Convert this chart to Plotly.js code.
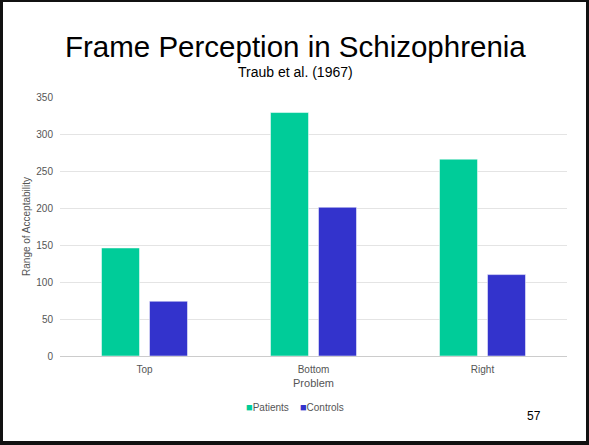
<!DOCTYPE html>
<html>
<head>
<meta charset="utf-8">
<script src="https://cdn.plot.ly/plotly-3.0.1.min.js"></script>
<style>
html,body{margin:0;padding:0;background:#fff;}
#wrap{position:relative;width:589px;height:445px;}
#chart{width:589px;height:445px;}
#frame{position:absolute;left:0;top:0;width:589px;height:445px;box-sizing:border-box;border-style:solid;border-color:#111;border-width:2px 3px 4px 3px;pointer-events:none;}
</style>
</head>
<body>
<div id="wrap"><div id="chart"></div><div id="frame"></div></div>
<script>
const categories = ["Top", "Bottom", "Right"];
const patients = [146, 329, 266];
const controls = [74, 201, 110];
const seriesNames = ["Patients", "Controls"];
const seriesColors = ["#00cc99", "#3333cc"];
const yTicks = [0, 50, 100, 150, 200, 250, 300, 350];

const font = "'Liberation Sans', Arial, sans-serif";

const traces = [
  {type: "bar", name: seriesNames[0], x: categories, y: patients, showlegend: false,
   marker: {color: seriesColors[0], line: {color: "rgba(255,255,255,0.5)", width: 1}}, hoverinfo: "none"},
  {type: "bar", name: seriesNames[1], x: categories, y: controls, showlegend: false,
   marker: {color: seriesColors[1], line: {color: "rgba(255,255,255,0.5)", width: 1}}, hoverinfo: "none"}
];

const sq = (c) => "<span style='color:" + c + ";font-size:11px'>■</span>";
const legendText = sq(seriesColors[0]) + seriesNames[0] + "    " + sq(seriesColors[1]) + seriesNames[1];

const layout = {
  width: 589, height: 445,
  margin: {l: 60, r: 22, t: 97, b: 89},
  paper_bgcolor: "#fff", plot_bgcolor: "#fff",
  font: {family: font, color: "#555", size: 10},
  barmode: "group", bargap: 0.432, bargroupgap: 0.208,
  showlegend: false,
  xaxis: {title: {text: "Problem", font: {size: 11, color: "#555"}, standoff: 5},
          tickfont: {size: 10, color: "#555"}, showline: true, linecolor: "#ccc", linewidth: 1,
          ticks: "", ticklabelstandoff: 4, fixedrange: true},
  yaxis: {title: {text: "Range of Acceptability", font: {size: 10, color: "#555"}, standoff: 3},
          range: [0, 350], tickvals: yTicks, ticktext: yTicks.map(String),
          tickfont: {size: 10, color: "#555"}, gridcolor: "#e4e4e4", zeroline: true,
          zerolinecolor: "#ccc", ticks: "", ticklabelstandoff: 6, fixedrange: true},
  annotations: [
    {text: "Frame Perception in Schizophrenia", xref: "paper", yref: "paper", x: 0.465, y: 1.0,
     xanchor: "center", yanchor: "bottom", yshift: 32, showarrow: false,
     font: {family: font, size: 29.5, color: "#000"}},
    {text: "Traub et al. (1967)", xref: "paper", yref: "paper", x: 0.465, y: 1.0,
     xanchor: "center", yanchor: "bottom", yshift: 15, showarrow: false,
     font: {family: font, size: 14, color: "#000"}},
    {text: legendText, xref: "paper", yref: "paper", x: 0.463, y: 0, yshift: -51,
     xanchor: "center", yanchor: "middle", showarrow: false,
     font: {family: font, size: 10, color: "#555"}},
    {text: "57", xref: "paper", yref: "paper", x: 0.934, y: 0, yshift: -60,
     xanchor: "center", yanchor: "middle", showarrow: false,
     font: {family: font, size: 12, color: "#000"}}
  ]
};

Plotly.newPlot("chart", traces, layout, {staticPlot: true, displayModeBar: false});
</script>
</body>
</html>
